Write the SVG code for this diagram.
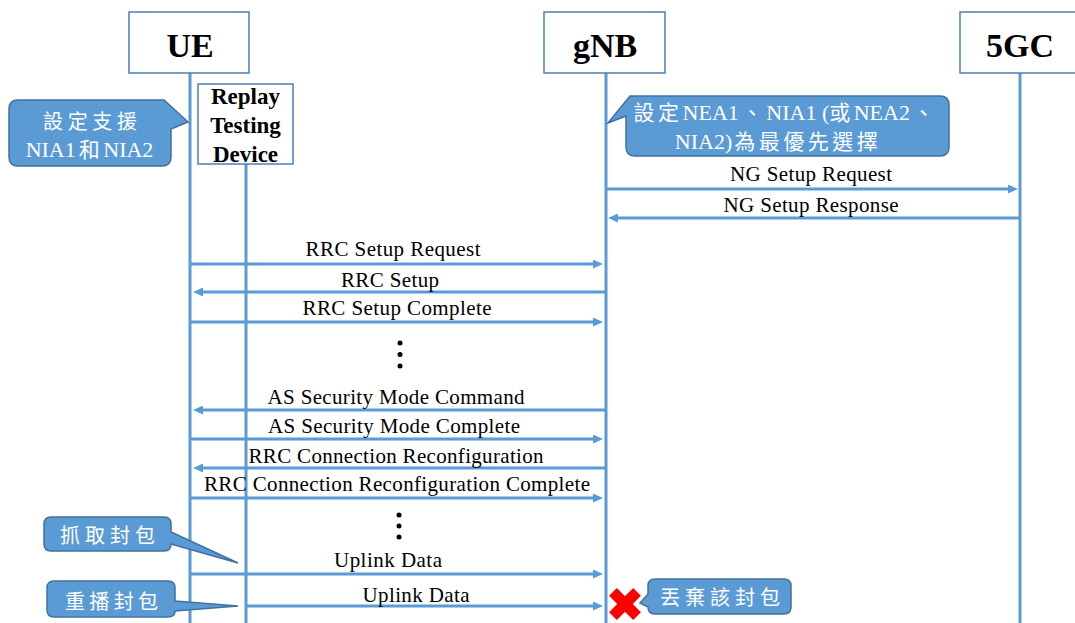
<svg xmlns="http://www.w3.org/2000/svg" width="1075" height="623" viewBox="0 0 1075 623">
<style>
.box{fill:#fff;stroke:#4a7ebb;stroke-width:1.5}
.hdr{font-family:"Liberation Serif",serif;font-weight:bold;font-size:34px;text-anchor:middle;fill:#000}
.dev{font-family:"Liberation Serif",serif;font-weight:bold;font-size:23px;text-anchor:middle;fill:#000}
.life{stroke:#5b9bd5;stroke-width:3;fill:none}
.msg{stroke:#5b9bd5;stroke-width:3;fill:none;marker-end:url(#ah)}
.lbl{font-family:"Liberation Serif",serif;font-size:21px;text-anchor:middle;fill:#000}
.co{fill:#5b9bd5;stroke:#41719c;stroke-width:1.5}
.cot{font-family:"Liberation Serif","Noto Sans CJK TC",serif;font-size:20px;text-anchor:middle;fill:#fff}
.mix{font-family:"Liberation Serif","Noto Sans CJK TC",serif;font-size:22px;text-anchor:middle;fill:#fff}
.cj{font-size:21px;letter-spacing:3.5px}
.dot{fill:#000}
</style>
<defs>
<marker id="ah" markerUnits="userSpaceOnUse" markerWidth="10" markerHeight="9" refX="5" refY="4.5" orient="auto">
<path d="M0,0 L10,4.5 L0,9 Z" fill="#5b9bd5"/>
</marker>
</defs>

<g id="lifelines">
<line class="life" x1="190" y1="73" x2="190" y2="623"/>
<line class="life" x1="246" y1="164" x2="246" y2="623"/>
<line class="life" x1="606" y1="73" x2="606" y2="623"/>
<line class="life" x1="1020" y1="73" x2="1020" y2="623"/>
</g>

<g id="node-ue">
<rect class="box" x="129" y="12" width="120" height="61"/>
<text class="hdr" x="190" y="57">UE</text>
</g>
<g id="node-gnb">
<rect class="box" x="544" y="12" width="121" height="61"/>
<text class="hdr" x="605" y="57">gNB</text>
</g>
<g id="node-5gc">
<rect class="box" x="960" y="12" width="122" height="61"/>
<text class="hdr" x="1020" y="57">5GC</text>
</g>
<g id="node-replay">
<rect class="box" x="198" y="84" width="95" height="80"/>
<text class="dev" x="245.5" y="104">Replay</text>
<text class="dev" x="245.5" y="133">Testing</text>
<text class="dev" x="245.5" y="162">Device</text>
</g>

<g id="connectors">
<line class="msg" x1="606" y1="189" x2="1013" y2="189"/>
<line class="msg" x1="1020" y1="218" x2="613" y2="218"/>
<line class="msg" x1="190" y1="264" x2="598" y2="264"/>
<line class="msg" x1="606" y1="292" x2="198" y2="292"/>
<line class="msg" x1="190" y1="322" x2="598" y2="322"/>
<line class="msg" x1="606" y1="410" x2="198" y2="410"/>
<line class="msg" x1="190" y1="439" x2="598" y2="439"/>
<line class="msg" x1="606" y1="468" x2="198" y2="468"/>
<line class="msg" x1="190" y1="498" x2="598" y2="498"/>
<line class="msg" x1="190" y1="574" x2="598" y2="574"/>
<line class="msg" x1="246" y1="606" x2="598" y2="606"/>
</g>

<g id="labels">
<text class="lbl" x="811" y="181" textLength="162" lengthAdjust="spacing">NG Setup Request</text>
<text class="lbl" x="811" y="212" textLength="175" lengthAdjust="spacing">NG Setup Response</text>
<text class="lbl" x="393" y="256" textLength="175" lengthAdjust="spacing">RRC Setup Request</text>
<text class="lbl" x="390" y="287" textLength="98" lengthAdjust="spacing">RRC Setup</text>
<text class="lbl" x="397" y="315" textLength="189" lengthAdjust="spacing">RRC Setup Complete</text>
<text class="lbl" x="396" y="404" textLength="257" lengthAdjust="spacing">AS Security Mode Command</text>
<text class="lbl" x="394" y="433" textLength="252" lengthAdjust="spacing">AS Security Mode Complete</text>
<text class="lbl" x="396" y="463" textLength="295" lengthAdjust="spacing">RRC Connection Reconfiguration</text>
<text class="lbl" x="397" y="491" textLength="386" lengthAdjust="spacing">RRC Connection Reconfiguration Complete</text>
<text class="lbl" x="388" y="567" textLength="108" lengthAdjust="spacing">Uplink Data</text>
<text class="lbl" x="416" y="602" textLength="107" lengthAdjust="spacing">Uplink Data</text>
</g>

<g id="dots1">
<circle class="dot" cx="400" cy="343" r="2.5"/>
<circle class="dot" cx="400" cy="354.5" r="2.5"/>
<circle class="dot" cx="400" cy="366" r="2.5"/>
</g>
<g id="dots2">
<circle class="dot" cx="399" cy="515" r="2.5"/>
<circle class="dot" cx="399" cy="526" r="2.5"/>
<circle class="dot" cx="399" cy="537" r="2.5"/>
</g>

<g id="callout-ue">
<path class="co" d="M18,100 H164 L188,122 L171,129 V157 Q171,166 162,166 H18 Q9,166 9,157 V109 Q9,100 18,100 Z"/>
<text class="cot" x="90" y="129" textLength="94" lengthAdjust="spacing">設定支援</text>
<text class="mix" x="89.5" y="157">NIA1<tspan class="cj" dx="3">和</tspan>NIA2</text>
</g>

<g id="callout-gnb">
<path class="co" d="M630,96 H940 Q949,96 949,105 V147 Q949,156 940,156 H635 Q626,156 626,147 V116 L608,123 L630,96 Z"/>
<text class="mix" x="785.5" y="120"><tspan class="cj">設定</tspan>NEA1<tspan class="cj" dx="3">、</tspan>NIA1 (<tspan class="cj">或</tspan>NEA2<tspan class="cj" dx="3">、</tspan></text>
<text class="mix" x="778" y="149">NIA2)<tspan class="cj" dx="2">為最優先選擇</tspan></text>
</g>

<g id="callout-capture">
<path class="co" d="M51,517 H164 Q171,517 171,524 V532 L238,563 L171,544 Q171,551 164,551 H51 Q44,551 44,544 V524 Q44,517 51,517 Z"/>
<text class="cot" x="107.5" y="543" textLength="95" lengthAdjust="spacing">抓取封包</text>
</g>

<g id="callout-replay">
<path class="co" d="M54,581 H168 Q175,581 175,588 V601 L238,606 L175,611 Q175,617 168,617 H54 Q47,617 47,610 V588 Q47,581 54,581 Z"/>
<text class="cot" x="111.5" y="609" textLength="93" lengthAdjust="spacing">重播封包</text>
</g>

<g id="callout-drop">
<path class="co" d="M655,579 H784 Q791,579 791,586 V607 Q791,614 784,614 H655 Q648,614 648,607 L640,603 L648,594 V586 Q648,579 655,579 Z"/>
<text class="cot" x="720" y="605" textLength="120" lengthAdjust="spacing">丟棄該封包</text>
</g>

<g id="drop-mark">
<polygon transform="translate(625,604) rotate(45)" fill="#ff0000" points="-5.5,-17 5.5,-17 5.5,-5.5 17,-5.5 17,5.5 5.5,5.5 5.5,17 -5.5,17 -5.5,5.5 -17,5.5 -17,-5.5 -5.5,-5.5"/>
</g>
</svg>
